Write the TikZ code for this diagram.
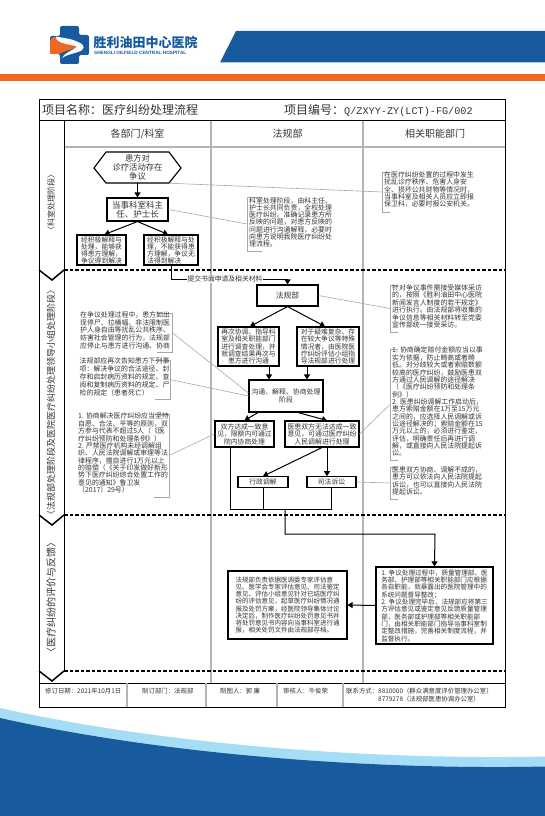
\documentclass[tikz,border=0pt]{standalone}
\usepackage{fontspec}
\setmainfont{Noto Sans CJK SC}
\newfontfamily\latinb{Liberation Sans}
\newfontfamily\monof{Liberation Mono}
\usetikzlibrary{arrows.meta}
\AtBeginDocument{\lineskiplimit=-100pt\normallineskiplimit=-100pt}
\definecolor{hblue}{HTML}{175A9E}
\definecolor{horange}{HTML}{F26722}
\definecolor{hlight}{HTML}{A5DDF6}
\definecolor{lanegray}{HTML}{B4B4B4}
\definecolor{leadgray}{HTML}{A8A8A8}
\definecolor{inkc}{HTML}{333333}
\tikzset{
  every node/.style={text=inkc},
  boxa/.style={draw=black,line width=1.1pt,fill=white,inner sep=0pt,align=center},
  bigbox/.style={boxa,font=\fontsize{8.5}{9.2}\selectfont},
  midbox/.style={boxa,font=\fontsize{7.8}{10}\selectfont},
  smallbox/.style={boxa,font=\fontsize{6.8}{7.4}\selectfont},
  textbox/.style={boxa,font=\fontsize{6.7}{7.3}\selectfont,align=left},
  notetext/.style={inner sep=1pt,anchor=north west,align=left,font=\fontsize{6.9}{7.35}\selectfont},
  bracket/.style={draw=leadgray,line width=.9pt},
  leader/.style={draw=leadgray,line width=.6pt},
  flow/.style={draw=black,line width=1pt,-{Triangle[length=5pt,width=6pt]}},
  flowline/.style={draw=black,line width=1pt},
  lane/.style={draw=lanegray,line width=1.1pt},
  frame/.style={draw=black,line width=1pt},
  stageline/.style={draw=black,line width=1.5pt,dash pattern=on 3.5pt off 2pt},
  stagelabel/.style={rotate=90,inner sep=0pt,font=\fontsize{9}{11}\selectfont},
  headlabel/.style={inner sep=0pt,font=\fontsize{10}{11}\selectfont},
  footlabel/.style={inner sep=0pt,anchor=west,align=left,font=\fontsize{6.4}{8.2}\selectfont},
  linklabel/.style={fill=white,inner sep=1pt,font=\fontsize{6.8}{8}\selectfont}
}
\newcommand{\noteL}[5]{% name,x,y,w,h : bracket on left
  \coordinate (#1nw) at (#2,#3); \coordinate (#1sw) at (#2,#3+#5);
  \coordinate (#1ne) at (#2+#4,#3); \coordinate (#1se) at (#2+#4,#3+#5);
  \coordinate (#1) at (#2,#3+#5/2);
  \draw[bracket] (#1ne) -- (#1nw) -- (#1sw) -- (#1se);}
\newcommand{\noteR}[5]{% name,x,y,w,h : bracket on right, x is the right edge
  \coordinate (#1nw) at (#2,#3); \coordinate (#1sw) at (#2,#3+#5);
  \coordinate (#1ne) at (#2-#4,#3); \coordinate (#1se) at (#2-#4,#3+#5);
  \coordinate (#1) at (#2,#3+#5/2);
  \draw[bracket] (#1ne) -- (#1nw) -- (#1sw) -- (#1se);}
\begin{document}
\begin{tikzpicture}[x=1pt,y=-1pt]
\useasboundingbox (0,0) rectangle (545,816);
% page decoration
\fill[horange] (0,74) rectangle (545,81);
\fill[hblue] (220,62.5) -- (236,31) -- (545,31) -- (545,62.5) -- cycle;
\fill[hlight] (0,708) .. controls (170,746) and (380,760) .. (545,756.5) -- (545,816) -- (0,816) -- cycle;
\fill[hblue] (0,718) .. controls (170,756) and (380,770) .. (545,766.5) -- (545,816) -- (0,816) -- cycle;
% logo
\fill[hblue,rounded corners=2pt] (60,26) -- (79,26) -- (79,35) -- (89,35) -- (89,55) -- (79,55) -- (79,64) -- (60,64) -- (60,54) -- (50,54) -- (50,36) -- (60,36) -- cycle;
\fill[horange,rounded corners=1.5pt] (50,43) .. controls (50,39) and (52,37) .. (56,36.5) -- (58,38) .. controls (56,44) and (70,44) .. (77,46) .. controls (72,50) and (64,51) .. (60,54) -- (52,54) .. controls (50,54) and (50,52) .. (50,50) -- cycle;
\fill[white] (56,36.5) .. controls (62,38) and (70,38) .. (78,42) .. controls (86,45) and (85,50) .. (78,52) .. controls (72,54) and (66,55) .. (62,58) .. controls (64,53) and (72,51) .. (77,46.5) .. controls (70,44) and (55,44) .. (56,36.5) -- cycle;
\node[inner sep=0pt,anchor=west,text=hblue,font=\fontsize{13}{14}\selectfont\bfseries] (logoname) at (93.5,42) {胜利油田中心医院};
\node[inner sep=0pt,anchor=west,text=hblue,font=\fontsize{4.7}{5}\latinb\bfseries] (logoeng) at (94,52.5) {SHENGLI OILFIELD CENTRAL HOSPITAL};
% table frame
\draw[lane] (211,120) -- (211,683);
\draw[lane] (363,120) -- (363,683);
\draw[lane] (64,147) -- (505,147);
\draw[frame] (39,99.5) rectangle (505,707);
\draw[frame] (39,120) -- (505,120);
\draw[frame] (64,120) -- (64,671);
\draw[frame] (39,683) -- (505,683);
\draw[lane] (127,683) -- (127,707);
\draw[lane] (206,683) -- (206,707);
\draw[lane] (277,683) -- (277,707);
\draw[lane] (343,683) -- (343,707);
% stage dividers
\draw[stageline] (64,270) -- (505,270);
\draw[stageline] (64,515) -- (505,515);
\draw[stageline] (64,671) -- (505,671);
\draw[line width=1.5pt] (39,270) -- (52,280) -- (64,270);
\draw[line width=1.5pt] (39,515) -- (52,525) -- (64,515);
\draw[line width=1.5pt] (39,671) -- (52,681) -- (64,671);
% titles
\node[inner sep=0pt,anchor=west,font=\fontsize{12}{14}\selectfont] (title) at (42,110) {项目名称：医疗纠纷处理流程};
\node[inner sep=0pt,anchor=west,font=\fontsize{12}{14}\selectfont] (code) at (284,110) {项目编号：{\monof\fontsize{10.2}{14}\selectfont Q/ZXYY-ZY(LCT)-FG/002}};
\node[headlabel] (col1) at (137.5,134) {各部门/科室};
\node[headlabel] (col2) at (287.5,134) {法规部};
\node[headlabel] (col3) at (435,134) {相关职能部门};
\node[stagelabel,font=\fontsize{8}{10}\selectfont] (stage1) at (51,202) {〈科室处理阶段〉};
\node[stagelabel] (stage2) at (51,402) {〈法规部处理阶段及医院医疗纠纷处理领导小组处理阶段〉};
\node[stagelabel,font=\fontsize{10}{11}\selectfont] (stage3) at (51,597) {〈医疗纠纷的评价与反馈〉};
% footer
\node[footlabel] (foot1) at (45,691.5) {修订日期：2021年10月1日};
\node[footlabel] (foot2) at (142,691.5) {制订部门：法规部};
\node[footlabel] (foot3) at (220,691.5) {制图人：郭 廉};
\node[footlabel] (foot4) at (283,691.5) {审核人：牛俊荣};
\node[footlabel] (foot5) at (346,695) {联系方式：8810000（群众满意度评价管理办公室）\\\phantom{联系方式：}8779278（法规部医患协调办公室）};
% flow nodes
\fill[white] (94,168) -- (106,152) -- (169,152) -- (181,168) -- (169,183) -- (106,183) -- cycle;
\draw[line width=1.1pt] (94,168) -- (106,152) -- (169,152) -- (181,168) -- (169,183) -- (106,183) -- cycle;
\node[inner sep=0pt,align=center,minimum width=87pt,minimum height=31pt,font=\fontsize{8.3}{8.8}\selectfont] (dispute) at (137.5,167.5) {患方对\\诊疗活动存在\\争议};
\node[bigbox,minimum width=61pt,minimum height=23pt] (head) at (137.5,209.5) {当事科室科主\\任、护士长};
\node[smallbox,minimum width=49pt,minimum height=30pt,align=left,font=\fontsize{6.8}{7}\selectfont] (solved) at (101.5,250) {经积极解释与\\处理，能够获\\得患方理解，\\争议得到解决};
\node[smallbox,minimum width=54pt,minimum height=30pt,align=left,font=\fontsize{6.8}{7}\selectfont] (unsolved) at (171,250) {经积极解释与处\\理，不能获得患\\方理解，争议无\\法得到解决};
\node[midbox,minimum width=61pt,minimum height=21pt] (legal) at (287.5,295.5) {法规部};
\node[smallbox,minimum width=61pt,minimum height=39pt] (coord) at (248.5,346.5) {再次协调、指导科\\室及相关职能部门\\进行调查处理，并\\就调查结果再次与\\患方进行沟通};
\node[smallbox,minimum width=62pt,minimum height=39pt] (hard) at (328,346.5) {对于疑难复杂、存\\在较大争议等特殊\\情况者，由医院医\\疗纠纷评估小组指\\导法规部进行处理};
\node[smallbox,minimum width=74pt,minimum height=32pt,font=\fontsize{6.9}{7.7}\selectfont] (talk) at (286,396) {沟通、解释、协商处理\\阶段};
\node[smallbox,minimum width=59pt,minimum height=26pt,font=\fontsize{6.8}{7.5}\selectfont] (agree) at (244.5,434) {双方达成一致意\\见，限额内可通过\\院内协商处理};
\node[smallbox,minimum width=74pt,minimum height=26pt,font=\fontsize{6.9}{7.5}\selectfont] (noagree) at (322,434) {医患双方无法达成一致\\意见，可通过医疗纠纷\\人民调解进行处理};
\node[smallbox,minimum width=50pt,minimum height=10.5pt] (admin) at (263,482) {行政调解};
\node[smallbox,minimum width=49pt,minimum height=10.5pt] (court) at (331.5,482) {司法诉讼};
\node[textbox,minimum width=119pt,minimum height=68pt,font=\fontsize{6.5}{7.2}\selectfont] (punish) at (287.5,605) {法规部负责依据医调委专家评估意\\见、医学会专家评估意见、司法鉴定\\意见、评估小组意见针对已结医疗纠\\纷的评估意见，起草医疗纠纷情况通\\报及处罚方案，经医院领导集体讨论\\决定后，制作医疗纠纷处罚意见书并\\将处罚意见书内容向当事科室进行通\\报，相关处罚文件由法规部存档。};
\node[textbox,minimum width=117pt,minimum height=77pt,font=\fontsize{6.6}{7.33}\selectfont] (improve) at (434.5,605.5) {1. 争议处理过程中，质量管理部、医\\务部、护理部等相关职能部门应根据\\各自职能，就暴露出的医院管理中的\\系统问题督导整改；\\2. 争议处理完毕后，法规部应将第三\\方评估意见或鉴定意见反馈质量管理\\部，医务部或护理部等相关职能部\\门，由相关职能部门指导当事科室制\\定整改措施，完善相关制度流程，并\\监督执行。};
\coordinate (merge) at (285,509);
\coordinate (turn1) at (285,534);
\coordinate (turn2) at (435,534);
\coordinate (lift) at (171,279);
\coordinate (lift2) at (287.5,279);
% connectors
\draw[flow] (dispute.south) -- (head.north);
\draw[flow] (head.south) -- ([xshift=3pt]solved.north);
\draw[flow] (head.south) -- ([xshift=-3pt]unsolved.north);
\draw[flowline] (unsolved.south) -- (lift) -- (lift2);
\draw[flow] (lift2) -- (legal.north);
\node[linklabel] (linktext) at (225,279) {提交书面申请及相关材料};
\draw[flow] (legal.south) -- ([xshift=1.5pt]coord.north);
\draw[flow] (legal.south) -- ([xshift=-3pt]hard.north);
\draw[flow] ([xshift=20.5pt]coord.south) -- ([xshift=-17pt]talk.north);
\draw[flow] ([xshift=-21pt]hard.south) -- ([xshift=21pt]talk.north);
\draw[flow] ([xshift=-28pt]talk.south) -- ([xshift=0pt]agree.north);
\draw[flow] ([xshift=12pt]talk.south) -- ([xshift=5pt]noagree.north);
\draw[flow] (noagree.south) -- (admin.north);
\draw[flow] ([xshift=5pt]noagree.south) -- ([xshift=-4.5pt]court.north);
\draw[flowline] ([xshift=-14.5pt]agree.south) |- (merge);
\draw[flowline] (admin.south) -- (admin.south |- merge);
\draw[flowline] (court.south) |- (merge);
\draw[flow] (merge) -- (turn1) -- (turn2) -- (improve.north);
\draw[flow] (improve.west) -- (punish.east);
% right-hand and central notes
\noteL{na}{247}{197}{15}{54}
\node[notetext,font=\fontsize{6.9}{7.2}\selectfont] (natext) at (248,196.3) {科室处理阶段，由科主任、\\护士长共同负责，全权处理\\医疗纠纷。准确记录患方所\\反映的问题，对患方反映的\\问题进行沟通解释，必要时\\向患方说明我院医疗纠纷处\\理流程。};
\noteL{nb}{382}{172}{8}{40}
\node[notetext] (nbtext) at (383,170.3) {在医疗纠纷处置的过程中发生\\ 扰乱诊疗秩序、危害人身安\\全、损坏公共财物等情况时，\\当事科室及相关人员应立即报\\保卫科，必要时报公安机关。};
\noteL{nc}{390}{285}{8}{47}
\node[notetext] (nctext) at (391,283.6) {针对争议事件需接受媒体采访\\的，按照《胜利油田中心医院\\新闻发言人制度的若干规定》\\进行执行。由法规部将收集的\\争议信息等相关材料转至党委\\宣传部统一接受采访。};
\noteL{nd}{390}{349}{8}{111}
\node[notetext] (ndtext) at (391,345.9) {1. 协商确定赔付金额应当以事\\实为依据，防止畸高或者畸\\低。对分歧较大或者索赔数额\\较高的医疗纠纷，鼓励医患双\\方通过人民调解的途径解决\\（《医疗纠纷预防和处理条\\例》）\\2. 医患纠纷调解工作启动后，\\患方索赔金额在1万至15万元\\之间的，应选择人民调解或诉\\讼途径解决的；索赔金额在15\\万元以上的，必须进行鉴定、\\评估，明确责任后再进行调\\解，或直接向人民法院提起诉\\讼。};
\noteL{ne}{390}{467}{8}{32}
\node[notetext] (netext) at (391,465.3) {医患双方协商、调解不成的，\\患方可以依法向人民法院提起\\诉讼，也可以直接向人民法院\\提起诉讼。};
% left notes
\noteR{nf}{172}{313}{15}{39}
\node[notetext,font=\fontsize{6.9}{7.75}\selectfont] (nftext) at (79,310.3) {在争议处理过程中，患方如出\\现停尸、拉横幅、非法限制医\\护人身自由等扰乱公共秩序、\\妨害社会管理的行为，法规部\\应停止与患方进行沟通、协商};
\noteR{ng}{170}{360}{15}{39}
\node[notetext,font=\fontsize{6.9}{7.9}\selectfont] (ngtext) at (78.5,356.9) {法规部应再次告知患方下列事\\项：解决争议的合法途径、封\\存和启封病历资料的规定、查\\阅和复制病历资料的规定、尸\\检的规定（患者死亡）};
\noteR{nh}{169}{414}{15}{83}
\node[notetext] (nhtext) at (77,411.9) {1. 协商解决医疗纠纷应当坚持\\自愿、合法、平等的原则，双\\方参与代表不超过5人（《医\\疗纠纷预防和处理条例》）\\2. 严禁医疗机构未经调解组\\织、人民法院调解或审理等法\\律程序，擅自进行1万元以上\\的赔偿（《关于印发做好新形\\势下医疗纠纷综合处置工作的\\意见的通知》鲁卫发\\〔2017〕29号）};
% leader lines
\draw[leader] ([xshift=-12pt]dispute.south east) -- (nb);
\draw[leader] (head.east) -- (na);
\draw[leader] (legal.east) -- (nc);
\draw[leader] (noagree.east) -- (nd);
\draw[leader] (court.east) -- (ne);
\draw[leader] (nf) -- ([yshift=3pt]talk.west);
\draw[leader] (ng) -- (talk.west);
\draw[leader] (nh) -- (agree.west);
\end{tikzpicture}
\end{document}
